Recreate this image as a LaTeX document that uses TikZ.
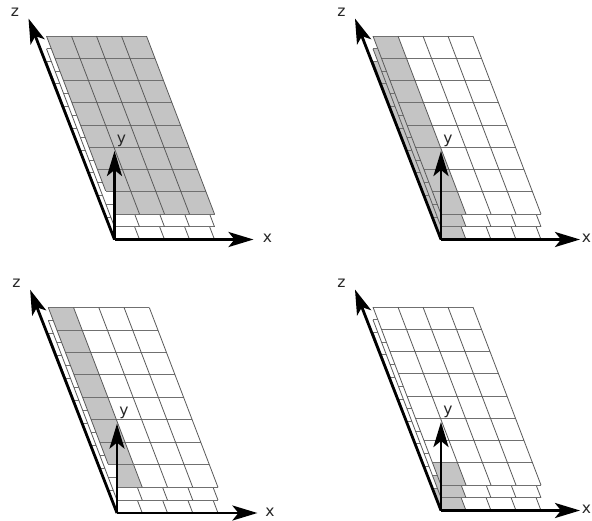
\documentclass[tikz,border=0pt]{standalone}
\usepackage{fontspec}
\setmainfont{DejaVu Sans}
\usetikzlibrary{arrows.meta}
\definecolor{cellgrey}{HTML}{C4C4C4}
\definecolor{gridv}{HTML}{5A5A5A}
\definecolor{gridh}{HTML}{707070}
\tikzset{
  axisline/.style={line width=2.8pt,-{Stealth[length=25pt,width=15pt,inset=6pt]}},
  axislabel/.style={font=\fontsize{15.5}{15.5}\selectfont,inner sep=0pt,text=black!85},
  vline/.style={draw=gridv,line width=0.8pt},
  hline/.style={draw=gridh,line width=1pt},
  greycell/.style={fill=cellgrey}
}
\newcommand{\PT}[2]{({#1*25-#2*8.5},{-\off-#2*22.25})}
\newcommand{\one}{\fill[greycell] \PT{0}{0} -- \PT{1}{0} -- \PT{1}{1} -- \PT{0}{1} -- cycle;}
\newcommand{\col}{\fill[greycell] \PT{0}{0} -- \PT{1}{0} -- \PT{1}{8} -- \PT{0}{8} -- cycle;}
\newcommand{\all}{\fill[greycell] \PT{0}{0} -- \PT{4}{0} -- \PT{4}{8} -- \PT{0}{8} -- cycle;}
\newcommand{\none}{}
\newcommand{\sheet}[2]{%
  \def\off{#1}%
  \fill[white] \PT{0}{0} -- \PT{4}{0} -- \PT{4}{8} -- \PT{0}{8} -- cycle;
  #2
  \foreach \v in {0,...,8} {\draw[hline] \PT{0}{\v} -- \PT{4}{\v};}
  \foreach \u in {0,...,4} {\draw[vline] \PT{\u}{0} -- \PT{\u}{8};}
}
% #1 x, #2 y, #3 scale, #4 name, #5 top sheet grey, #6 lower sheets grey, #7 mask, #8 x-label offset
\newcommand{\panel}[8]{%
  \begin{scope}[shift={(#1,#2)},scale=#3]
    \sheet{0}{#6}
    \sheet{12.7}{#6}
    \sheet{25.4}{#5}
    \ifnum#7=1
      \begin{scope}
        \clip (-30,-25.4) rectangle (0,-47.65);
        \sheet{0}{}
        \sheet{12.7}{}
      \end{scope}
      \def\off{25.4}
      \draw[hline] \PT{0}{1} -- \PT{1}{1};
    \fi
    \coordinate (#4o) at (0,0);
    \coordinate (#4x) at (139,0);
    \coordinate (#4y) at (0,-88.5);
    \coordinate (#4z) at (-86,-221);
    \draw[axisline] (#4o) -- (#4z);
    \draw[axisline] (#4o) -- (#4y);
    \draw[axisline] (#4o) -- (#4x);
    \node[axislabel] (#4lx) at (#8,-1) {x};
    \node[axislabel] (#4ly) at (7,-99) {y};
    \node[axislabel] (#4lz) at (-99.5,-227) {z};
  \end{scope}
}
\begin{document}
\begin{tikzpicture}[x=1pt,y=-1pt]
  \useasboundingbox (0,0) rectangle (592,520);
  \panel{114.5}{239.5}{1}{a}{\all}{\none}{1}{153}
  \panel{441}{239.5}{1}{b}{\col}{\col}{0}{145.5}
  \panel{117}{513}{1.01}{c}{\col}{\none}{1}{151.5}
  \panel{441}{510.5}{1}{d}{\one}{\one}{0}{145.5}
\end{tikzpicture}
\end{document}
